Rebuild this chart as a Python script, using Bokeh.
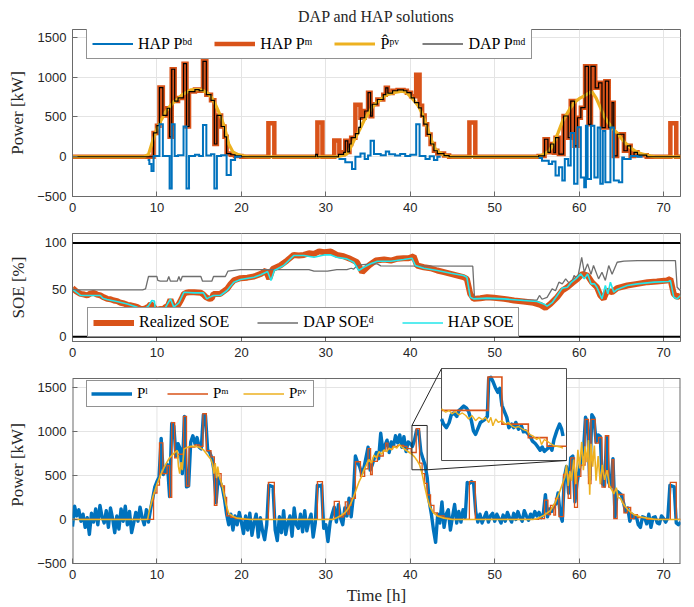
import numpy as np
from bokeh.plotting import figure
from bokeh.models import Range1d, FixedTicker, Legend, LegendItem, Span
from bokeh.layouts import column
from bokeh.embed import file_html
from bokeh.resources import INLINE

# ------------------------------------------------------------------ data
x_ticks = [0, 10, 20, 30, 40, 50, 60, 70]
power_ticks = [-500, 0, 500, 1000, 1500]
soe_ticks = [0, 50, 100]
soe_limits = [0, 100]

# forecast PV (top panel), (hour, kW)
pv_forecast = [(0, 0), (8.5, 0), (9.0, 30), (9.5, 200), (10.0, 350), (10.5, 460), (11.0, 560), (11.5, 630),
               (12.0, 690), (12.5, 730), (13.0, 780), (13.5, 810), (14.0, 840), (14.5, 845), (15.0, 845),
               (15.5, 830), (16.0, 800), (16.5, 740), (17.0, 640), (17.5, 520), (18.0, 370), (18.5, 160),
               (19.0, 60), (19.5, 30), (20.0, 15), (20.5, 5), (21.0, 0),
               (31.0, 0), (31.5, 5), (32.0, 15), (32.5, 35), (33.0, 130), (33.5, 240), (34.0, 340), (34.5, 450),
               (35.0, 540), (35.5, 620), (36.0, 680), (36.5, 720), (37.0, 765), (37.5, 790), (38.0, 805),
               (38.5, 815), (39.0, 825), (39.5, 810), (40.0, 760), (40.5, 700), (41.0, 630), (41.5, 520),
               (42.0, 370), (42.5, 210), (43.0, 90), (43.5, 50), (44.0, 20), (44.5, 8), (45.0, 0),
               (55.0, 0), (55.5, 15), (56.0, 40), (56.5, 80), (57.0, 170), (57.5, 300), (58.0, 440), (58.5, 530),
               (59.0, 620), (59.5, 690), (60.0, 730), (60.5, 760), (61.0, 790), (61.5, 820), (62.0, 740),
               (62.5, 620), (63.0, 500), (63.5, 420), (64.0, 350), (64.5, 300), (65.0, 230), (65.5, 170),
               (66.0, 120), (66.5, 80), (67.0, 50), (67.5, 35), (68.0, 20), (68.5, 8), (69.0, 0), (72.0, 0)]

# HAP market power, step changes (start hour, kW)
hap_pm = [(0, 0), (9.6, 300), (10.0, 390), (10.3, 870), (10.7, 520), (11.2, 610), (11.5, 250), (11.75, 1100),
          (12.1, 700), (12.5, 740), (13.15, 1170), (13.5, 380), (13.8, 820), (14.5, 845), (15.0, 830),
          (15.45, 1200), (15.85, 780), (16.4, 710), (16.8, 160), (17.1, 520), (17.6, 380), (18.0, 250),
          (18.25, 40), (18.75, 25), (19.25, 10), (20.0, 0),
          (23.2, 420), (23.9, 0), (29.0, 430), (29.6, 0), (31.0, 205), (31.6, 30), (32.1, 55), (32.3, 200),
          (32.6, 60), (32.8, 160), (33.0, 240), (33.5, 655), (34.1, 490), (34.6, 575), (35.0, 805), (35.3, 510),
          (35.5, 660), (36.1, 720), (36.8, 780), (37.1, 867), (37.35, 800), (37.9, 830), (38.5, 840),
          (39.2, 830), (39.6, 805), (40.1, 760), (40.7, 1030), (41.1, 640), (41.4, 520), (41.7, 410),
          (42.0, 280), (42.4, 160), (42.8, 75), (43.2, 40), (44.0, 15), (44.6, 0),
          (47.0, 430), (47.7, 0), (55.2, 10), (55.9, 220), (56.3, 55), (56.6, 160), (57.0, 50), (57.2, 240),
          (57.6, 33), (58.15, 512), (58.7, 240), (59.0, 700), (59.45, 137), (59.8, 490), (60.2, 617),
          (60.7, 1137), (61.1, 408), (61.4, 1137), (61.9, 867), (62.3, 930), (62.7, 367), (63.1, 950),
          (63.5, 367), (63.9, 680), (64.1, 10), (64.5, 283), (65.3, 75), (65.7, 137), (66.1, 10), (66.5, 55),
          (66.9, 20), (68.0, 0), (70.8, 420), (71.5, 0)]

# DAP market power, step changes (start hour, kW)
dap_pmd = [(0, 0), (9.6, 300), (10.0, 390), (10.3, 870), (10.7, 520), (11.2, 610), (11.5, 250), (11.75, 1100),
           (12.1, 700), (12.5, 740), (13.15, 1170), (13.5, 380), (13.8, 820), (14.5, 845), (15.0, 830),
           (15.45, 1200), (15.85, 780), (16.4, 710), (16.8, 160), (17.1, 520), (17.6, 380), (18.0, 250),
           (18.25, 40), (18.75, 25), (19.25, 10), (20.0, 0),
           (28.8, 30), (29.0, 0), (31.5, 30), (32.1, 55), (32.3, 200), (32.6, 60), (32.8, 160), (33.0, 240),
           (33.5, 290), (33.9, 370), (34.1, 490), (34.6, 575), (35.0, 805), (35.3, 510), (35.5, 660),
           (36.1, 720), (36.8, 780), (37.1, 867), (37.35, 800), (37.9, 830), (38.5, 840), (39.2, 830),
           (39.6, 805), (40.1, 740), (40.5, 680), (41.0, 615), (41.3, 510), (41.6, 410), (42.0, 280),
           (42.4, 160), (42.8, 75), (43.2, 40), (44.0, 15), (44.6, 0),
           (55.2, 10), (55.9, 220), (56.3, 55), (56.6, 160), (57.0, 50), (57.2, 240), (57.6, 33), (58.15, 512),
           (58.7, 240), (59.0, 700), (59.45, 137), (59.8, 490), (60.2, 617), (60.7, 1137), (61.1, 408),
           (61.4, 1137), (61.9, 867), (62.3, 930), (62.7, 367), (63.1, 950), (63.5, 367), (63.9, 680),
           (64.1, 10), (64.5, 283), (65.3, 75), (65.7, 137), (66.1, 10), (66.5, 55), (66.9, 20), (68.0, 0)]

NAN = float("nan")
# HAP battery power, step changes (start hour, kW); NaN = not computed
hap_pbd = [(0, NAN), (8.9, -40), (9.1, -90), (9.35, -180), (9.6, 10), (10.3, 410), (10.7, 10), (11.5, -400),
           (11.75, 410), (12.1, 10), (12.5, 20), (13.15, 380), (13.5, -400), (13.8, 10), (14.5, 25), (15.0, 10),
           (15.45, 400), (15.85, 15), (16.4, 30), (16.8, -400), (17.1, 10), (17.6, 20), (18.25, -230),
           (18.75, -40), (19.25, 0), (20.0, NAN),
           (31.5, -30), (32.3, -70), (33.1, -155), (33.5, 0), (34.1, 40), (34.6, -30), (35.0, 15), (35.3, 200),
           (35.7, 33), (36.5, 20), (37.1, 67), (37.5, 30), (38.2, 15), (38.8, 35), (39.4, 10), (40.0, 25),
           (40.7, 408), (41.1, 10), (41.8, -30), (42.3, 5), (42.8, -40), (43.2, 0), (43.6, NAN),
           (55.2, -15), (55.6, -50), (56.4, -90), (56.8, -60), (57.2, -237), (57.6, -133), (58.0, -300),
           (58.3, -30), (58.7, -110), (59.0, 300), (59.4, -340), (59.8, 370), (60.2, -260), (60.6, -383),
           (60.8, 390), (61.0, -280), (61.4, 390), (61.8, -260), (62.2, 367), (62.5, -340), (62.8, 325),
           (63.1, -320), (63.7, 367), (64.1, -300), (64.7, -320), (65.1, -10), (65.3, -30), (66.1, 10),
           (66.9, 0), (67.5, NAN)]

# state of energy [%], (hour, %)
realized_soe = [(0, 51.8), (0.5, 48), (0.95, 45.7), (1.4, 45), (1.74, 44), (2.1, 46), (2.5, 46.8), (2.9, 45),
                (3.3, 44), (3.7, 42), (4.1, 40.4), (4.5, 40), (4.9, 38.7), (5.3, 38), (5.7, 36.2), (6.1, 35.5),
                (6.5, 34), (6.9, 33.5), (7.3, 32.6), (7.7, 31.5), (8.05, 29.8), (8.4, 29.5), (8.65, 30.5),
                (9.0, 32), (9.25, 35), (9.5, 33), (9.8, 29.8), (10.1, 28), (10.4, 29.8), (10.7, 29), (11.0, 31.6),
                (11.3, 33), (11.6, 39.7), (12.0, 29.8), (12.3, 31), (12.6, 35), (12.9, 40), (13.2, 45.7),
                (13.5, 47), (13.8, 47.5), (14.4, 47.5), (15.2, 46.8), (15.5, 45), (15.8, 42.2), (16.2, 40.4),
                (16.5, 41), (16.7, 45.7), (17.5, 45.7), (18.3, 51), (18.7, 56), (19.1, 60), (19.9, 62.4),
                (20.7, 63), (21.5, 64.2), (22.3, 67), (22.9, 70.6), (23.3, 61.7), (23.7, 72.3), (24.6, 75.9),
                (25.4, 81.2), (26.2, 87.2), (26.8, 86.5), (27.4, 87.2), (28.0, 89), (28.6, 88.3), (29.2, 91),
                (29.8, 90), (30.6, 90.8), (31.3, 87.2), (32.1, 85.8), (32.9, 83), (33.7, 79.4), (34.3, 68.8),
                (35.1, 75.9), (35.9, 81.2), (36.9, 82.3), (37.7, 81.2), (38.4, 83), (39.2, 83.7), (39.8, 83.7),
                (40.4, 85.8), (40.8, 75.9), (41.6, 74.1), (42.4, 73), (43.2, 70.6), (44.0, 68.8), (44.8, 67),
                (45.6, 65.2), (46.3, 63.5), (46.7, 61.7), (47.1, 45.7), (47.5, 40.4), (48.3, 41.1), (49.1, 42.2),
                (49.9, 41.5), (51.1, 40.4), (52.3, 38.7), (53.4, 37.6), (54.6, 36.2), (55.4, 34), (56.0, 30.9),
                (56.6, 35.1), (57.4, 42.2), (58.0, 49.3), (58.6, 52.8), (59.2, 57.4), (59.8, 61.7), (60.4, 67),
                (61.0, 65.2), (61.5, 58.2), (62.1, 52.8), (62.5, 44), (62.9, 40.4), (63.3, 49.3), (63.9, 47.5),
                (64.5, 51.8), (65.7, 54.6), (66.9, 56.4), (68.1, 58.2), (69.2, 58.9), (70.4, 60), (70.8, 61.7),
                (71.2, 45.7), (71.6, 42.2), (72.0, 44)]

dap_soe = [(0, 50), (8.3, 50), (8.65, 51), (9.0, 64.2), (10.0, 64.2), (10.1, 60), (10.4, 59.2), (11.2, 59.2),
           (11.4, 64.2), (11.6, 59.2), (12.4, 59.2), (12.6, 64.2), (12.8, 59.2), (13.0, 64.2), (15.2, 64.2),
           (15.4, 59.2), (16.5, 59.2), (16.7, 64.2), (18.1, 64.2), (18.4, 69.9), (19.9, 71.6), (28.0, 71.6),
           (28.6, 69.9), (30.2, 69.9), (31.3, 71.6), (32.5, 71.6), (33.0, 73), (33.3, 72), (33.6, 75),
           (34.1, 76.6), (35.3, 77.7), (36.1, 77.7), (36.5, 75.5), (47.4, 75.2), (47.6, 42.2), (47.9, 40.4),
           (55.0, 39), (55.3, 44), (55.6, 40), (56.2, 42), (56.8, 51), (57.2, 49), (57.6, 58.2), (58.0, 56.4),
           (58.4, 61.7), (59.0, 55), (59.4, 65.2), (59.8, 61.7), (60.3, 84.7), (60.6, 68.8), (61.0, 77.7),
           (61.4, 66.5), (61.7, 75.9), (62.3, 61.7), (62.7, 68.8), (63.1, 60), (63.5, 75.9), (63.9, 66.5),
           (64.5, 79.4), (65.3, 80.5), (66.9, 81.2), (71.4, 81.2), (71.6, 52.8), (72.0, 49)]

hap_soe = [(0, 51), (0.2, 49.3), (0.95, 44), (2.0, 44), (3.3, 44), (3.6, 41), (4.1, 39.7), (5.5, 37), (6.5, 35),
           (7.5, 32), (8.05, 29.8), (8.6, 30), (9.0, 33), (9.4, 38.7), (9.7, 38), (9.8, 29.8), (10.5, 29),
           (11.0, 31), (11.6, 40.4), (12.0, 31.6), (12.6, 36), (13.2, 47.5), (14.4, 46.8), (15.5, 46.8),
           (15.9, 40.4), (16.2, 42), (16.7, 44), (17.5, 44), (18.3, 49.3), (19.1, 58.2), (19.9, 61),
           (21.5, 63.5), (22.3, 66), (23.1, 69.5), (23.5, 60), (23.9, 70.6), (25.0, 75.9), (26.2, 86.5),
           (27.4, 86.5), (28.6, 84.7), (29.8, 87.2), (30.6, 87.2), (31.3, 84.7), (32.5, 83), (33.3, 79.4),
           (33.9, 70.6), (34.5, 74.1), (35.3, 77.7), (36.1, 80.5), (37.7, 80.5), (39.2, 82.3), (40.2, 83.7),
           (40.6, 75.9), (41.6, 73), (43.2, 70.6), (44.8, 67.7), (46.3, 65.2), (46.7, 63.5), (47.1, 42.2),
           (47.5, 40.4), (49.1, 41.2), (51.1, 40.4), (53.4, 38.7), (55.0, 37.6), (55.8, 35), (56.2, 32.6),
           (56.8, 36.3), (57.4, 44), (58.0, 51.8), (58.6, 52.8), (59.0, 57.4), (59.6, 61.7), (60.2, 67),
           (60.6, 61.7), (61.0, 67), (61.4, 56.4), (61.8, 56.4), (62.1, 52.8), (62.7, 40.4), (63.1, 54.6),
           (63.4, 45.7), (63.7, 58.2), (64.1, 47.5), (64.5, 50.5), (65.7, 54.6), (66.9, 56.4), (68.9, 58.2),
           (70.6, 58.9), (70.8, 60), (71.2, 42.2), (71.6, 40.4), (72.0, 44)]

# measured load, one value every 0.25 h from 0 h to 72 h (one row per hour)
load_step_h = 0.25
load_kw = [
    -80, 150, 40, 110,   -20, 60, -90, 20,   -170, 70, -30, 120,   -60, 160, 30, -40,
    100, -90, 130, 10,   -150, 40, -110, 120,   -20, 150, -60, 90,   -150, -40, 80, -20,
    140, 20, -60, 110,   -30, 120, 240, 370,   430, 480, 920, 510,   560, 620, 260, 1090,
    1060, 720, 860, 800,   520, 1170, 370, 380,   880, 950, 860, 930,   820, 800, 1190, 1180,
    790, 760, 700, 560,   190, 470, 420, 360,   230, 60, -60, 60,   -120, 40, -60, 80,
    -30, -160, 40, -120,   70, -180, -40, 60,   -200, 20, -130, -230,   -60, 390, 380, 370,
    -120, -240, 30, -150,   100, -170, -40, 40,   -190, 130, -60, -100,   60, -140, 100, -130,
    -20, 60, -200, -40,   390, 380, 390, -100,   -60, -250, -40, 60,   140, -30, 170, 10,
    -60, 130, 40, 240,   30, 250, 720, 650,   600, 520, 580, 700,   820, 560, 620, 700,
    760, 690, 980, 780,   840, 900, 760, 880,   830, 950, 870, 960,   820, 940, 770, 880,
    860, 830, 900, 1010,   1000, 770, 690, 620,   480, 200, 60, -120,   -260, 60, -40, 200,
    -90, 60, 110, -120,   30, 170, -40, 90,   -30, 110, 20, 420,   410, 430, 410, 90,
    -30, 60, -40, 20,   80, -30, 40, 70,   -20, 60, 10, -40,   50, -20, 80, 20,
    -30, 70, 0, 90,   20, -20, 100, 40,   -10, 60, 20, 90,   40, 80, 20, 60,
    280, 30, 120, 90,   150, 180, 300, 60,   -20, 480, 600, 300,   700, 720, 200, 420,
    560, 700, 760, 1160,   1100, 450, 1190, 1150,   880, 960, 940, 410,   380, 940, 420, 370,
    690, 30, 320, 300,   280, 190, 90, 130,   -20, 60, 20, 40,   -60, -90, 30, 20,
    -50, 60, -90, 20,   30, -40, -50, 40,   10, -30, 20, 390,   380, 370, -40, -60,
    -30]

# measured PV (bottom panel), (hour, kW)
pv_actual = [(0, 0), (8.9, 0), (9.1, 100), (9.5, 250), (10.0, 400), (10.5, 520), (11.0, 620), (11.5, 700),
             (12.0, 750), (12.4, 785), (12.55, 600), (12.7, 520), (12.85, 650), (13.0, 560), (13.2, 800),
             (13.5, 815), (14.0, 830), (14.5, 830), (15.0, 820), (15.5, 790), (16.0, 730), (16.4, 680),
             (16.6, 620), (16.75, 520), (16.9, 640), (17.05, 470), (17.2, 600), (17.4, 480), (17.7, 400),
             (18.0, 260), (18.2, 160), (18.5, 70), (19.0, 35), (19.5, 15), (20.5, 5), (21.0, 0),
             (30.8, 0), (31.3, 20), (31.8, 45), (32.3, 80), (32.7, 130), (33.0, 190), (33.3, 260), (33.6, 340),
             (33.9, 420), (34.2, 480), (34.5, 560), (34.8, 620), (35.1, 680), (35.4, 640), (35.7, 730),
             (36.0, 700), (36.3, 770), (36.6, 740), (36.9, 790), (37.2, 770), (37.5, 810), (37.8, 790),
             (38.1, 830), (38.4, 810), (38.7, 850), (39.0, 820), (39.3, 800), (39.6, 780), (39.9, 760),
             (40.2, 740), (40.5, 710), (40.8, 670), (41.1, 620), (41.4, 520), (41.7, 380), (42.0, 250),
             (42.3, 150), (42.7, 80), (43.2, 40), (44.0, 15), (45.0, 0),
             (54.5, 0), (55.0, 8), (55.8, 45), (56.6, 100), (57.2, 200), (57.6, 290), (58.0, 400), (58.3, 480),
             (58.5, 620), (58.7, 380), (58.9, 550), (59.1, 440), (59.35, 680), (59.6, 400), (59.85, 790),
             (60.05, 580), (60.3, 880), (60.5, 560), (60.7, 830), (60.9, 650), (61.1, 900), (61.25, 280),
             (61.4, 860), (61.6, 600), (61.8, 840), (62.0, 440), (62.25, 720), (62.5, 400), (62.75, 620),
             (63.0, 450), (63.3, 560), (63.6, 380), (63.9, 330), (64.1, 290), (64.4, 360), (64.6, 250),
             (64.9, 240), (65.2, 180), (65.6, 130), (66.0, 90), (66.5, 55), (67.2, 30), (68.0, 15), (68.8, 4),
             (69.2, 0), (72.0, 0)]

# zoomed detail (inset) : window [t0, t1, p0, p1]
inset_window = [40.2, 42.0, 564, 1067]
inset_load = [(40.20, 791), (40.23, 763), (40.27, 744), (40.31, 772), (40.34, 813), (40.38, 824), (40.42, 805),
              (40.45, 837), (40.48, 847), (40.52, 862), (40.56, 850), (40.59, 832), (40.63, 782), (40.66, 726),
              (40.69, 707), (40.73, 744), (40.76, 772), (40.80, 782), (40.83, 791), (40.86, 805), (40.88, 1015),
              (40.91, 1019), (40.94, 997), (40.98, 959), (41.01, 937), (41.04, 959), (41.07, 866), (41.10, 837),
              (41.14, 800), (41.17, 744), (41.21, 763), (41.24, 744), (41.27, 772), (41.31, 735), (41.35, 754),
              (41.38, 721), (41.41, 726), (41.44, 713), (41.48, 694), (41.51, 670), (41.55, 657), (41.58, 642),
              (41.62, 620), (41.65, 638), (41.68, 614), (41.72, 627), (41.76, 642), (41.79, 620), (41.82, 679),
              (41.86, 726), (41.90, 763), (41.93, 735), (41.95, 698)]
inset_pm = [(40.2, 838), (40.87, 1021), (41.07, 763), (41.45, 689), (41.72, 642)]
inset_pv = [(40.20, 847), (40.26, 828), (40.31, 838), (40.35, 819), (40.40, 832), (40.45, 813), (40.50, 824),
            (40.55, 810), (40.59, 791), (40.64, 810), (40.69, 782), (40.74, 800), (40.79, 787), (40.83, 800),
            (40.88, 772), (40.91, 800), (40.94, 754), (40.98, 791), (41.02, 772), (41.07, 782), (41.12, 763),
            (41.16, 772), (41.21, 754), (41.26, 744), (41.31, 750), (41.37, 735), (41.43, 726), (41.47, 707),
            (41.52, 698), (41.57, 679), (41.61, 689), (41.64, 651), (41.68, 679), (41.72, 670), (41.77, 657),
            (41.82, 645), (41.86, 642), (41.91, 638), (41.95, 632)]

# ------------------------------------------------------------------ style
BLUE = "#0072BD"
ORANGE = "#D95319"
YELLOW = "#EDB120"
CYAN = "#22E6EA"
GRAYL = "#6E6E6E"
FRAME = "#6A6A6A"
GRID = "#E4E4E4"
TXT = "#262626"
SERIF = "Liberation Serif"
SANS = "Liberation Sans"
T_END = 72.0


def unzip(pairs):
    return [a for a, _ in pairs], [b for _, b in pairs]


def steps(pairs, t_end=T_END):
    xs, ys = [], []
    for i, (t, v) in enumerate(pairs):
        t2 = pairs[i + 1][0] if i + 1 < len(pairs) else t_end
        xs += [t, t2]
        ys += [v, v]
    return xs, ys


def make_fig(height, y0, y1, b_top, b_bottom, yticks):
    p = figure(width=694, height=height, x_range=Range1d(0, T_END), y_range=Range1d(y0, y1),
               output_backend="svg", toolbar_location=None,
               min_border_left=72, min_border_right=14, min_border_top=b_top, min_border_bottom=b_bottom)
    p.background_fill_color = "white"
    p.border_fill_color = "white"
    p.outline_line_color = FRAME
    p.outline_line_width = 1
    p.xaxis.ticker = FixedTicker(ticks=x_ticks)
    p.yaxis.ticker = FixedTicker(ticks=yticks)
    p.grid.grid_line_color = GRID
    p.grid.grid_line_width = 1
    for ax in p.axis:
        ax.axis_line_color = FRAME
        ax.major_tick_line_color = FRAME
        ax.major_tick_in = 5
        ax.major_tick_out = 0
        ax.minor_tick_line_color = None
        ax.major_label_text_font = SANS
        ax.major_label_text_font_size = "13px"
        ax.major_label_text_color = TXT
        ax.major_label_standoff = 6
        ax.axis_label_text_font = SERIF
        ax.axis_label_text_font_size = "17px"
        ax.axis_label_text_font_style = "normal"
        ax.axis_label_text_color = TXT
    return p


def make_legend(items, loc, inner_h, pad, font_px, spacing):
    return Legend(items=items, orientation="horizontal", location=loc, margin=0, padding=pad,
                  spacing=spacing, glyph_width=41, glyph_height=inner_h, label_height=inner_h,
                  label_standoff=5, label_text_font=SERIF, label_text_font_size=f"{font_px}px",
                  label_text_color="black", border_line_color=TXT, border_line_width=1,
                  background_fill_color="white", background_fill_alpha=1.0)


# ------------------------------------------------------------------ panel 1
p1 = make_fig(222, -500, 1600, 28, 26, power_ticks)
p1.title.text = "DAP and HAP solutions"
p1.title.align = "center"
p1.title.text_font = SERIF
p1.title.text_font_size = "16px"
p1.title.text_font_style = "normal"
p1.title.text_color = TXT
p1.yaxis.axis_label = "Power [kW]"
p1.yaxis.axis_label_standoff = 7

x, y = steps(hap_pm)
r_pm = p1.line(x, y, line_color=ORANGE, line_width=4.5, line_join="miter")
x, y = unzip(pv_forecast)
r_fc = p1.line(x, y, line_color=YELLOW, line_width=3.2)
x, y = steps(dap_pmd)
r_md = p1.line(x, y, line_color="black", line_width=1.2, line_join="miter")
x, y = steps(hap_pbd)
r_bd = p1.line(x, y, line_color=BLUE, line_width=2, line_join="miter")

leg1 = make_legend([LegendItem(label="HAP P\u1d47\u1d48", renderers=[r_bd]),
                    LegendItem(label="HAP P\u1d50", renderers=[r_pm]),
                    LegendItem(label="P\u0302\u1d56\u1d5b", renderers=[r_fc]),
                    LegendItem(label="DAP P\u1d50\u1d48", renderers=[r_md])],
                   (14, 137), 19, 5, 16, 22)
p1.add_layout(leg1)

# ------------------------------------------------------------------ panel 2
p2 = make_fig(144, -5, 110, 11, 25, soe_ticks)
p2.yaxis.axis_label = "SOE [%]"
p2.yaxis.axis_label_standoff = 14
for lim in soe_limits:
    p2.add_layout(Span(location=lim, dimension="width", line_color="black", line_width=2))
x, y = unzip(realized_soe)
r_real = p2.line(x, y, line_color=ORANGE, line_width=6)
x, y = unzip(dap_soe)
r_dap = p2.line(x, y, line_color=GRAYL, line_width=1.3)
x, y = unzip(hap_soe)
r_hap = p2.line(x, y, line_color=CYAN, line_width=1.6)
leg2 = make_legend([LegendItem(label="Realized SOE", renderers=[r_real]),
                    LegendItem(label="DAP SOE\u1d48", renderers=[r_dap]),
                    LegendItem(label="HAP SOE", renderers=[r_hap])],
                   (15, 4), 17, 5, 16, 28)
p2.add_layout(leg2)

# ------------------------------------------------------------------ panel 3
# frame extends 12 px above the 1600 line so that the inset can overhang the box
P3_TOP = 1600 + 12 * 2100 / 185
p3 = make_fig(241, -500, P3_TOP, 0, 44, power_ticks)
p3.outline_line_color = None
p3.yaxis.axis_line_color = None
p3.xgrid.visible = False
p3.yaxis.axis_label = "Power [kW]"
p3.yaxis.axis_label_standoff = 7
p3.xaxis.axis_label = "Time [h]"
p3.xaxis.axis_label_standoff = 4
y_lo, y_hi = power_ticks[0], 1600
p3.segment(x0=x_ticks[1:], y0=[y_lo] * 7, x1=x_ticks[1:], y1=[y_hi] * 7,
           line_color=GRID, line_width=1, level="underlay")
p3.segment(x0=[0, T_END], y0=[y_lo, y_lo], x1=[0, T_END], y1=[y_hi, y_hi], line_color=FRAME, line_width=2)
p3.segment(x0=[0], y0=[y_hi], x1=[T_END], y1=[y_hi], line_color=FRAME, line_width=1)

lt = list(np.arange(len(load_kw)) * load_step_h)
r_load = p3.line(lt, load_kw, line_color=BLUE, line_width=3.4, line_join="round")
x, y = steps(hap_pm)
r_pm3 = p3.line(x, y, line_color=ORANGE, line_width=1.3, line_join="miter")
x, y = unzip(pv_actual)
r_pv3 = p3.line(x, y, line_color=YELLOW, line_width=1.6)

# inset (zoom of window) drawn on the main axes
t0, t1, v0, v1 = inset_window
IX = (43.70, 58.50)
IY = (669.0, 1713.0)


def to_inset(ts, vs):
    ts = np.asarray(ts, float)
    vs = np.asarray(vs, float)
    X = IX[0] + (ts - t0) / (t1 - t0) * (IX[1] - IX[0])
    Y = IY[0] + (vs - v0) / (v1 - v0) * (IY[1] - IY[0])
    return list(X), list(Y)


p3.quad(left=[IX[0]], right=[IX[1]], bottom=[IY[0]], top=[IY[1]], fill_color="white",
        line_color="#4D4D4D", line_width=1)
p3.quad(left=[t0], right=[t1], bottom=[v0], top=[v1], fill_color=None, line_color="#262626", line_width=1)
p3.line([t0, IX[0]], [v1, IY[1]], line_color="#262626", line_width=1)
p3.line([t1, IX[1]], [v0, IY[0]], line_color="#262626", line_width=1)

x, y = to_inset(*unzip(inset_load))
p3.line(x, y, line_color=BLUE, line_width=3.5, line_join="round")
x, y = to_inset(*steps(inset_pm, t_end=t1))
p3.line(x, y, line_color=ORANGE, line_width=1.6, line_join="miter")
x, y = to_inset(*unzip(inset_pv))
p3.line(x, y, line_color=YELLOW, line_width=1.4)

leg3 = make_legend([LegendItem(label="P\u02e1", renderers=[r_load]),
                    LegendItem(label="P\u1d50", renderers=[r_pm3]),
                    LegendItem(label="P\u1d56\u1d5b", renderers=[r_pv3])],
                   (14, 156), 17, 4, 15, 10)
p3.add_layout(leg3)

layout = column(p1, p2, p3, spacing=0)
open("out.html", "w").write(file_html(layout, INLINE))
